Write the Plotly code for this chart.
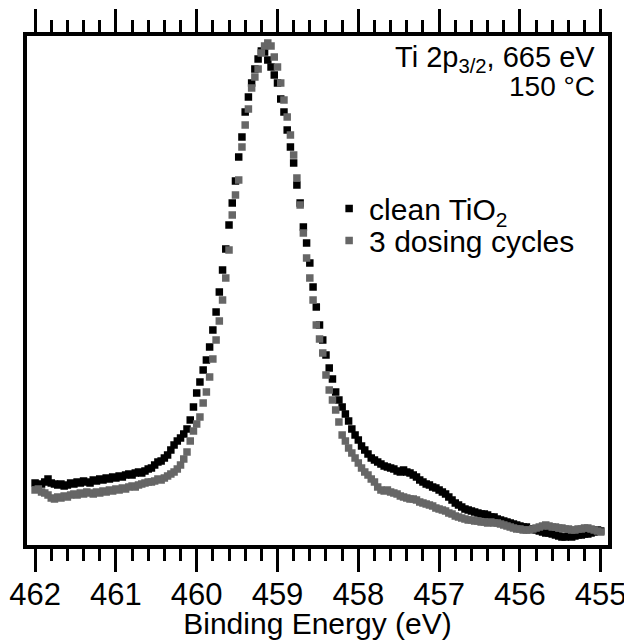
import numpy as np
import plotly.graph_objects as go

# binding energy grid of the scan (eV), 0.04 eV steps from 462 down to 455
e_start = 462.0
e_step = 0.04
n_pts = 176
binding_energy = np.round(e_start - e_step * np.arange(n_pts), 2)

# intensities (arb. units)
clean_tio2 = [
    62, 60, 61, 63, 66, 62, 61, 60, 61, 59, 60, 62, 61, 63, 62, 64, 63, 62, 65, 64,
    66, 65, 67, 66, 68, 67, 69, 68, 70, 71, 70, 72, 73, 72, 74, 76,
    77, 80, 83, 84, 87, 90, 95, 100, 104, 107, 111, 116, 125, 138, 152, 163, 175, 185,
    198, 215, 233, 253, 275, 296, 320, 342, 364, 388, 408, 433, 448, 462, 476, 486, 494,
    493, 485, 478, 470, 462, 446, 433, 415, 398, 382, 360, 342, 318, 302, 282, 258, 238,
    220, 205, 190, 177, 166, 153, 145, 138, 131, 124,
    116, 110, 105, 99, 95, 91, 87, 85, 83, 81, 79, 78, 77, 76, 74, 73, 75, 73, 72, 70,
    68, 65, 63, 61, 60, 58, 57, 55, 53, 51, 48, 45, 42, 40, 38, 36, 35, 34, 33, 32,
    31, 31, 30, 28, 28, 26, 25, 24, 23, 22, 21, 20, 19, 18, 18, 16, 16, 15, 14, 13,
    12, 12, 11, 10, 9, 8, 8, 9, 8, 9, 10, 10, 11, 11, 12, 13, 15, 14,
]
dosed_3 = [
    55, 56, 53, 52, 50, 47, 46, 48, 47, 49, 48, 50, 51, 50, 52, 51, 53, 52, 51, 53,
    52, 54, 53, 55, 54, 56, 55, 57, 56, 58, 59, 58, 60, 61, 62, 63,
    63, 64, 66, 65, 67, 69, 71, 73, 76, 80, 86, 93, 104, 114, 121, 128, 142, 153,
    168, 186, 205, 224, 245, 267, 295, 330, 350, 365, 398, 420, 436, 457, 468, 476, 492,
    499, 502, 499, 488, 478, 462, 445, 428, 410, 390, 367, 340, 312, 287, 267, 245, 220,
    206, 192, 170, 155, 145, 135, 123, 110, 104, 97,
    92, 87, 82, 77, 73, 70, 66, 63, 58, 55, 54, 55, 53, 52, 51, 49, 48, 47, 46, 46,
    45, 43, 42, 41, 40, 39, 37, 36, 35, 34, 32, 31, 29, 28, 27, 26, 25, 25, 24, 24,
    23, 23, 22, 23, 22, 22, 21, 20, 19, 18, 17, 16, 16, 15, 15, 15, 16, 17, 18, 19,
    20, 19, 18, 18, 17, 17, 16, 16, 15, 15, 16, 16, 17, 17, 16, 15, 14, 13,
]

font = "Liberation Sans, Arial, sans-serif"

fig = go.Figure()
fig.add_trace(go.Scatter(
    x=binding_energy, y=clean_tio2, mode="markers", name="clean TiO<sub>2</sub>",
    marker=dict(symbol="square", size=7.5, color="#000000", line=dict(width=0)),
    legend="legend",
))
fig.add_trace(go.Scatter(
    x=binding_energy, y=dosed_3, mode="markers", name="3 dosing cycles",
    marker=dict(symbol="square", size=7.5, color="#666666", line=dict(width=0)),
    legend="legend2",
))

fig.add_annotation(text="Ti 2p<sub>3/2</sub>, 665 eV", xref="paper", yref="paper",
                   x=0.981, y=0.955, xanchor="right", yanchor="middle",
                   showarrow=False, font=dict(size=29, color="black", family=font))
fig.add_annotation(text="150 °C", xref="paper", yref="paper",
                   x=0.981, y=0.9, xanchor="right", yanchor="middle",
                   showarrow=False, font=dict(size=28, color="black", family=font))

fig.update_xaxes(
    range=[462.1, 454.91], dtick=1, tick0=455,
    ticks="outside", ticklen=23, tickwidth=3, tickcolor="black",
    minor=dict(dtick=0.2, ticks="outside", ticklen=12, tickwidth=3, tickcolor="black", showgrid=False),
    showline=True, linewidth=4, linecolor="black", mirror="ticks",
    showgrid=False, zeroline=False,
    tickfont=dict(size=31, color="black", family=font),
    ticklabelstandoff=-4,
    title=dict(text="Binding Energy (eV)", font=dict(size=30, color="black", family=font), standoff=0),
)
fig.update_yaxes(
    range=[0, 509], showticklabels=False, ticks="",
    showline=True, linewidth=4, linecolor="black", mirror=True,
    showgrid=False, zeroline=False,
)

legend_style = dict(xanchor="left", yanchor="middle",
                    font=dict(size=30, color="black", family=font),
                    bgcolor="rgba(0,0,0,0)", itemwidth=30)

# page body adds an 8px offset, so the figure is drawn slightly smaller than the window
fig.update_layout(
    width=624, height=632,
    margin=dict(l=19, r=24, t=28, b=95, autoexpand=False),
    plot_bgcolor="white", paper_bgcolor="white",
    font=dict(family=font, color="black"),
    showlegend=True,
    legend=dict(x=0.52, y=0.661, **legend_style),
    legend2=dict(x=0.52, y=0.598, **legend_style),
)

fig.write_html("out.html")
